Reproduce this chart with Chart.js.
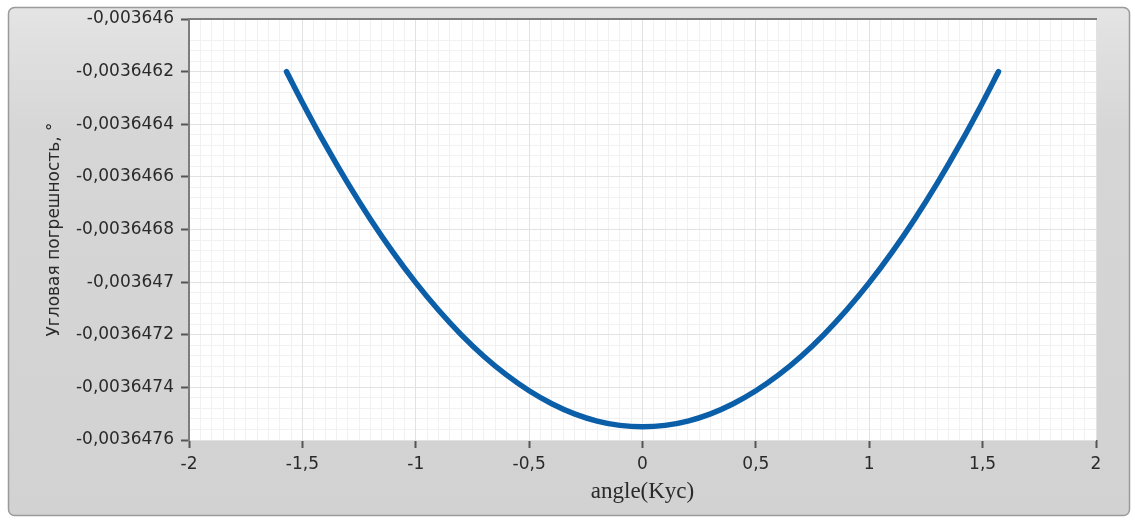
<!DOCTYPE html>
<html>
<head>
<meta charset="utf-8">
<script src="https://cdn.jsdelivr.net/npm/chart.js@4"></script>
<style>
    html, body { margin: 0; padding: 0; background: #ffffff; }
    #wrap { width: 1135px; height: 520px; position: relative; }
</style>
</head>
<body>
<div id="wrap"><canvas id="Wykres_1"></canvas></div>
<script>
// dane
const angleX = [-1.57, -1.5, -1.4, -1.3, -1.2, -1.1, -1.0, -0.9, -0.8, -0.7, -0.6, -0.5, -0.4, -0.3, -0.2, -0.1, 0,
                0.1, 0.2, 0.3, 0.4, 0.5, 0.6, 0.7, 0.8, 0.9, 1.0, 1.1, 1.2, 1.3, 1.4, 1.5, 1.57];
const errorY = [-0.0036462000, -0.0036463170, -0.0036464759, -0.0036466239, -0.0036467609, -0.0036468869,
                -0.0036470020, -0.0036471061, -0.0036471993, -0.0036472815, -0.0036473527, -0.0036474130,
                -0.0036474623, -0.0036475007, -0.0036475281, -0.0036475445, -0.0036475500,
                -0.0036475445, -0.0036475281, -0.0036475007, -0.0036474623, -0.0036474130, -0.0036473527,
                -0.0036472815, -0.0036471993, -0.0036471061, -0.0036470020, -0.0036468869, -0.0036467609,
                -0.0036466239, -0.0036464759, -0.0036463170, -0.0036462000];
const xTicks = [-2, -1.5, -1, -0.5, 0, 0.5, 1, 1.5, 2];
const yTicks = [-0.0036476, -0.0036474, -0.0036472, -0.003647, -0.0036468, -0.0036466, -0.0036464, -0.0036462, -0.003646];

const points = angleX.map((x, i) => ({ x: x, y: errorY[i] }));
const comma = (s) => s.replace('.', ',');

// szara ramka jak w LabVIEW
const ramka = {
    id: 'ramka',
    beforeDraw(chart) {
        const c = chart.ctx;
        c.save();
        const g = c.createLinearGradient(0, 7, 0, 516);
        g.addColorStop(0, '#e4e4e4');
        g.addColorStop(0.25, '#d6d6d6');
        g.addColorStop(1, '#d2d2d2');
        c.fillStyle = g;
        c.strokeStyle = '#9a9a9a';
        c.lineWidth = 1.5;
        c.beginPath();
        c.roundRect(8.5, 7.5, 1121, 508, 6);
        c.fill();
        c.stroke();
        c.fillStyle = '#ffffff';
        const a = chart.chartArea;
        c.fillRect(a.left, a.top, a.right - a.left, a.bottom - a.top);
        c.restore();
    }
};

document.addEventListener("DOMContentLoaded", function() {
    const ctx = document.getElementById('Wykres_1').getContext('2d');
    new Chart(ctx, {
        type: 'line',
        data: {
            datasets: [{
                label: 'error',
                data: points,
                borderColor: '#0b5ea8',
                backgroundColor: '#0b5ea8',
                borderWidth: 5.5,
                pointRadius: 0,
                cubicInterpolationMode: 'monotone',
                borderCapStyle: 'round'
            }]
        },
        options: {
            responsive: true,
            maintainAspectRatio: false,
            animation: false,
            layout: { padding: { left: 0, right: 39, top: 19, bottom: 0 } },
            plugins: {
                legend: { display: false },
                tooltip: { enabled: false }
            },
            scales: {
                xMinor: {
                    type: 'linear', position: 'top', min: -2, max: 2,
                    ticks: { display: false, stepSize: 0.05 },
                    grid: { color: '#f1f1f1', drawTicks: false, z: -2 },
                    border: { display: true, color: '#7d7d7d', width: 2 },
                    afterFit(s) { s.height = 0; }
                },
                yMinor: {
                    type: 'linear', position: 'right', min: -0.0036476, max: -0.003646,
                    ticks: { display: false, stepSize: 0.00000004 },
                    grid: { color: '#f1f1f1', drawTicks: false, z: -2 },
                    border: { display: false },
                    afterFit(s) { s.width = 0; }
                },
                x: {
                    type: 'linear', position: 'bottom', min: -2, max: 2,
                    afterBuildTicks(s) { s.ticks = xTicks.map(v => ({ value: v })); },
                    ticks: {
                        autoSkip: false, padding: 6, color: '#2a2a2a',
                        font: { family: 'DejaVu Sans', size: 17 },
                        callback: (v) => comma(String(Number(v.toFixed(2))))
                    },
                    grid: { color: '#e2e2e2', tickColor: '#555555', tickLength: 8, tickWidth: 2 },
                    border: { display: false },
                    title: {
                        display: true, text: 'angle(Kyc)', color: '#2a2a2a',
                        font: { family: 'Liberation Serif', size: 23 },
                        padding: { top: 0, bottom: 14 }
                    },
                    afterFit(s) { s.height = 80; }
                },
                y: {
                    type: 'linear', position: 'left', min: -0.0036476, max: -0.003646,
                    afterBuildTicks(s) { s.ticks = yTicks.map(v => ({ value: v })); },
                    ticks: {
                        autoSkip: false, padding: 7, color: '#2a2a2a',
                        font: { family: 'DejaVu Sans', size: 17 },
                        callback: (v) => comma(String(Number(v.toFixed(7))))
                    },
                    grid: { color: '#e2e2e2', tickColor: '#555555', tickLength: 8, tickWidth: 2 },
                    border: { display: true, color: '#7d7d7d', width: 2 },
                    title: {
                        display: true, text: 'Угловая погрешность, °', color: '#2a2a2a',
                        font: { family: 'DejaVu Sans', size: 17 },
                        padding: { top: 44, bottom: 0 }
                    },
                    afterFit(s) { s.width = 189; }
                }
            }
        },
        plugins: [ramka]
    });
});
</script>
</body>
</html>
